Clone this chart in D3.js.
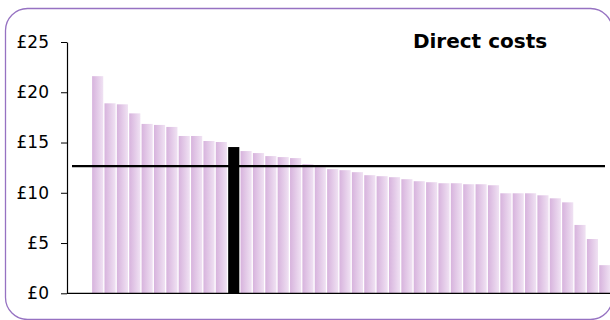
<!DOCTYPE html>
<html>
<head>
<meta charset="utf-8">
<script src="https://cdn.jsdelivr.net/npm/d3@7"></script>
<style>
  body { margin: 0; background: #fff; }
  svg { display: block; font-family: "DejaVu Sans", Verdana, sans-serif; }
</style>
</head>
<body>
<svg id="chart" width="610" height="320"></svg>
<script>
// direct cost per organisation, sorted high to low
let costs = [21.6, 18.9, 18.8, 17.9, 16.85, 16.75, 16.55, 15.65, 15.65, 15.15, 15.05, 14.55,
  14.15, 13.95, 13.65, 13.55, 13.45, 12.85, 12.55, 12.35, 12.25, 12.05, 11.75, 11.65,
  11.55, 11.35, 11.15, 11.05, 10.95, 10.95, 10.85, 10.85, 10.75, 9.95, 9.95, 9.95,
  9.75, 9.45, 9.05, 6.8, 5.4, 2.8];
let orgs = costs.map((d, i) => "org" + (i + 1));
let highlightOrg = "org12";
let average = 12.65;
let yTicks = [0, 5, 10, 15, 20, 25];
let title = "Direct costs";

let svg = d3.select("svg#chart");

// rounded frame round the chart
svg.append("rect")
  .attr("x", 5.5).attr("y", 8.5)
  .attr("width", 607).attr("height", 311)
  .attr("rx", 22).attr("ry", 22)
  .attr("fill", "none")
  .attr("stroke", "#9672c2")
  .attr("stroke-width", 1.3);

let defs = svg.append("defs");
let grad = defs.append("linearGradient")
  .attr("id", "barFill")
  .attr("x1", "0%").attr("x2", "100%").attr("y1", "0%").attr("y2", "0%");
grad.append("stop").attr("offset", "0%").attr("stop-color", "#d7b3dd");
grad.append("stop").attr("offset", "100%").attr("stop-color", "#f0e2f3");

let x = d3.scaleBand()
  .domain(orgs)
  .range([91.5, 611])
  .paddingInner(0.1)
  .paddingOuter(0.05);

let y = d3.scaleLinear()
  .domain([0, 25])
  .range([293.3, 42]);

// bars
svg.append("g")
  .selectAll("rect")
  .data(costs)
  .join("rect")
  .attr("x", (d, i) => x(orgs[i]))
  .attr("y", d => y(d))
  .attr("width", x.bandwidth())
  .attr("height", d => y(0) - y(d))
  .attr("fill", (d, i) => orgs[i] === highlightOrg ? "#000" : "url(#barFill)");

// y axis
let yAxis = svg.append("g")
  .attr("transform", "translate(67,0)")
  .call(d3.axisLeft(y).tickValues(yTicks).tickFormat(d => "£" + d).tickSize(6).tickSizeOuter(0));
yAxis.select(".domain").attr("stroke", "#000").attr("stroke-width", 1.2);
yAxis.selectAll(".tick line").attr("stroke", "#000");
yAxis.selectAll(".tick text")
  .attr("x", -18)
  .attr("fill", "#000")
  .style("font-size", "17px")
  .style("font-family", "'DejaVu Sans', Verdana, sans-serif");

// x axis baseline
svg.append("line")
  .attr("x1", 67).attr("x2", 611)
  .attr("y1", y(0)).attr("y2", y(0))
  .attr("stroke", "#000")
  .attr("stroke-width", 1.2);

// average line
svg.append("line")
  .attr("x1", 72).attr("x2", 605)
  .attr("y1", y(average)).attr("y2", y(average))
  .attr("stroke", "#000")
  .attr("stroke-width", 2.3);

svg.append("text")
  .attr("x", 480).attr("y", 48)
  .attr("text-anchor", "middle")
  .style("font-weight", "bold")
  .style("font-size", "20px")
  .text(title);
</script>
</body>
</html>
